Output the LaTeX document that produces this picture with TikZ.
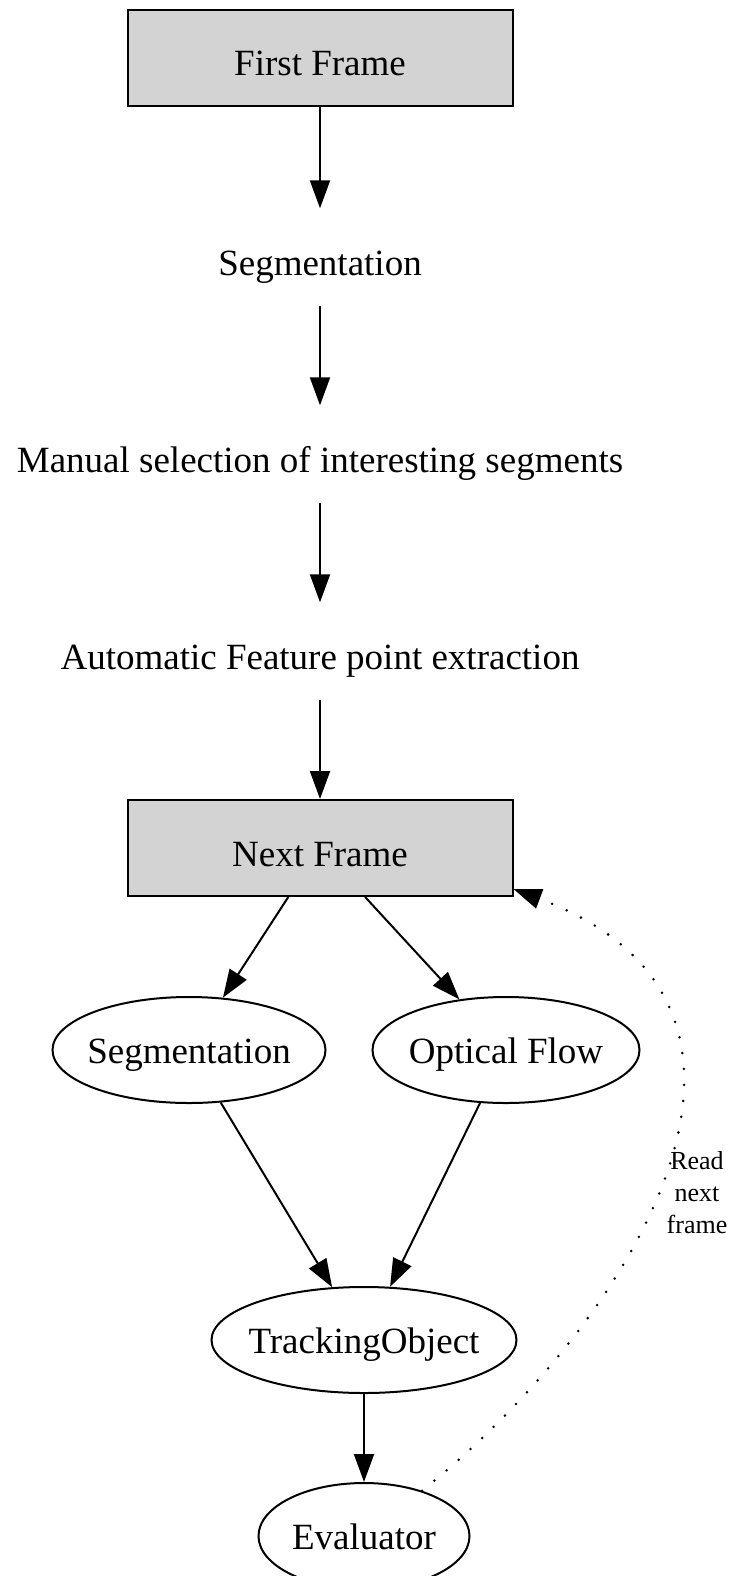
\documentclass[tikz,border=0pt]{standalone}
\usepackage{fontspec}
\setmainfont{Liberation Serif}
\usetikzlibrary{shapes.geometric,arrows.meta}
\definecolor{framegray}{HTML}{D3D3D3}

\begin{document}
\begin{tikzpicture}[x=1pt,y=-1pt]
		\tikzstyle{every node}=[font=\fontsize{37}{44}\selectfont,text height=36pt,text depth=0pt]
		\tikzstyle{every edge}=[draw,line width=2pt,-{Triangle[length=28pt,width=20pt]}]
		\tikzstyle{framebox}=[draw,line width=2pt,fill=framegray,minimum width=385pt,minimum height=96pt]
		\tikzstyle{stepnode}=[minimum height=97pt,inner sep=0pt]
		\tikzstyle{procnode}=[draw,ellipse,line width=2pt,minimum height=106pt,inner sep=0pt,inner xsep=-20pt,text height=26pt]
		\useasboundingbox (0,0) rectangle (734,1576);

		\node (first) at (320,58) [framebox] {First Frame};
		\node (seg) at (320,257) [stepnode] {Segmentation};
		\node (manual) at (320,454) [stepnode] {Manual selection of interesting segments};
		\node (autofp) at (320,651) [stepnode] {Automatic Feature point extraction};
		\node (next) at (320,848) [framebox] {Next Frame};

		\node (segm) at (189,1050) [procnode,minimum width=273pt] {Segmentation};
		\node (flow) at (506,1050) [procnode,minimum width=267pt] {Optical Flow};
		\node (track) at (364,1340) [procnode,minimum width=305pt] {TrackingObject};
		\node (eval) at (364,1536) [procnode,minimum width=211pt] {Evaluator};

		\path (first) edge (seg);
		\path (seg) edge (manual);
		\path (manual) edge (autofp);
		\path (autofp) edge (next);
		\path (next) edge (segm);
		\path (next) edge (flow);
		\path (segm) edge (track);
		\path (flow) edge (track);
		\path (track) edge (eval);

		% feedback loop
		\draw [line width=2.8pt,line cap=round,dash pattern=on 0pt off 16pt,-{Triangle[length=28pt,width=20pt]}]
			(eval.38) .. controls (627,1327) and (830,1008) .. ([yshift=8pt]next.south east);
		\node (readnext) at (697,1192) [align=center,text height=,font=\fontsize{26}{32}\selectfont] {Read\\next\\frame};
	\end{tikzpicture}
\end{document}
